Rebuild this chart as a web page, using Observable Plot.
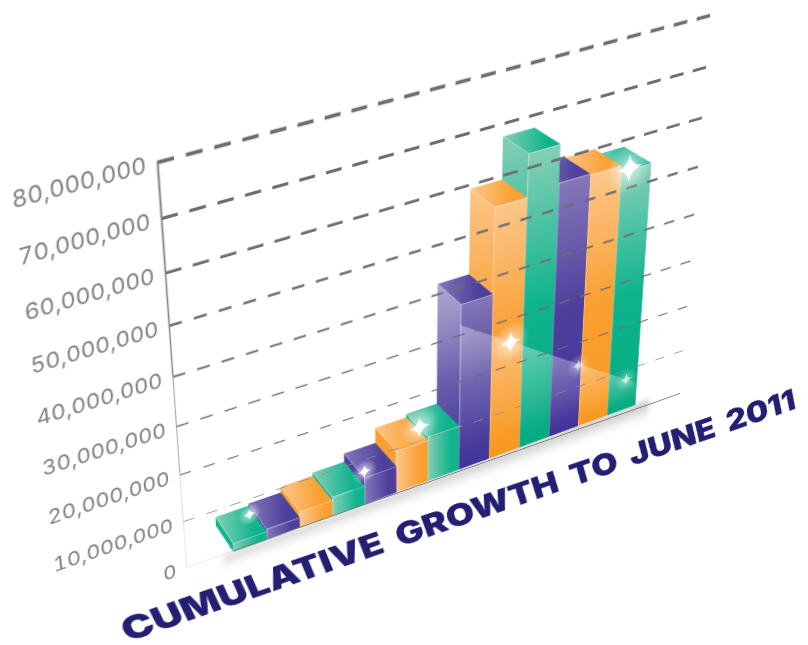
<!DOCTYPE html>
<html>
<head>
<meta charset="utf-8">
<script src="https://cdn.jsdelivr.net/npm/d3@7"></script>
<script src="https://cdn.jsdelivr.net/npm/@observablehq/plot@0.6"></script>
<style>
html,body{margin:0;padding:0;background:#fff;width:808px;height:645px;overflow:hidden}
#chart{position:relative;width:808px;height:645px;overflow:hidden}
</style>
</head>
<body>
<div id="chart"></div>
<script>
// ---- data ----
const titleText = "CUMULATIVE GROWTH TO JUNE 2011";
const barValues = [1.6e6, 2.1e6, 3.4e6, 4.1e6, 6.0e6, 9.4e6, 10.2e6, 36.4e6, 54.1e6, 62.8e6, 55.1e6, 54.9e6, 53.6e6];
const barSeries = ["g","p","o","g","p","o","g","p","o","g","p","o","g"];
const tickValues = [0,1e7,2e7,3e7,4e7,5e7,6e7,7e7,8e7];
const sparkleBar = [0.51, 3.99, 5.72, 8.6, 10.9, 12.6, 12.26];
const sparkleVal = [6.7e6, 7.4e6, 13e6, 25e6, 14.8e6, 7.8e6, 54e6];
const sparkleSize = [6, 7, 11, 11, 7, 7, 14];
const sparkleAlpha = [1, 1, 1, 1, .55, .55, 1];

// ---- colours ----
const light = {g:"#84cfb6", p:"#8477b9", o:"#fcc68a"};
const mid   = {g:"#0fb48d", p:"#4d3f9c", o:"#f9a033"};
const deep  = {g:"#03aa80", p:"#41349a", o:"#f9981f"};

// ---- flat plot frame and its perspective placement ----
const W = 550, H = 400, mL = 210, mR = 190, mT = 20, mB = 110;
const corners = {bl:[186,567], br:[680,393], tr:[710,15], tl:[157,162]};
const xDomain = [-1.392, 14.608];
const vanish = [-12.48, 189e6], depth = 0.037;

function perspective() {
  const {bl, br, tr, tl} = corners;
  const dx1=br[0]-tr[0], dx2=tl[0]-tr[0], sx=bl[0]-br[0]+tr[0]-tl[0];
  const dy1=br[1]-tr[1], dy2=tl[1]-tr[1], sy=bl[1]-br[1]+tr[1]-tl[1];
  const det=dx1*dy2-dx2*dy1;
  const g=(sx*dy2-dx2*sy)/det, h=(dx1*sy-sx*dy1)/det;
  const a=br[0]-bl[0]+g*br[0], b=tl[0]-bl[0]+h*tl[0], c=bl[0];
  const d=br[1]-bl[1]+g*br[1], e=tl[1]-bl[1]+h*tl[1], f=bl[1];
  const lift = (p,q,r)=>[p/W, -q/H, -p*mL/W + q*(H+mT)/H + r];
  const X=lift(a,b,c), Y=lift(d,e,f), Z=lift(g,h,1);
  const n=Z[2];
  return `matrix3d(${[X[0]/n,Y[0]/n,0,Z[0]/n, X[1]/n,Y[1]/n,0,Z[1]/n, 0,0,1,0, X[2]/n,Y[2]/n,0,1].join(",")})`;
}

// ---- solids ----
const back = ([x,y]) => [x+depth*(vanish[0]-x), y+depth*(vanish[1]-y)];
const quad = (A,B,C,D) => [{x1:A[0],y1:A[1],x2:D[0],y2:D[1]},{x1:B[0],y1:B[1],x2:C[0],y2:C[1]}];
const face = (rows, fill, extra={}) => Plot.area(rows,{x1:"x1",y1:"y1",x2:"x2",y2:"y2",fill,...extra});
const edge = (A,B,o=.55,w=.8) => Plot.line([A,B],{x:d=>d[0],y:d=>d[1],stroke:"#fff",strokeOpacity:o,strokeWidth:w});
const foot = i => -4e5 + i*1e5;
const sheenTop = x => 32e6 - (x-7)*26e6/6;

function barMarks(i) {
  const s=barSeries[i], v=barValues[i], x0=i, x1=i+1, tall=v>=3e7;
  const FLt=[x0,v], FRt=[x1,v], FLb=[x0,foot(i)], FRb=[x1,foot(i+1)];
  const BLt=back(FLt), BRt=back(FRt), BLb=back(FLb);
  const kind = tall ? "v" : "h";
  const marks=[
    face(quad(BLt,FLt,FLb,BLb), tall?`url(#v-${s})`:mid[s]),
    face(quad(BLt,BRt,FRt,FLt), `url(#h-${s})`),
    face(quad(FLt,FRt,FRb,FLb), `url(#${kind}-${s})`)
  ];
  if (i===7) marks.push(face(quad(BLt,FLt,FLb,BLb),"url(#sheen)"));
  if (i>=7) {
    const a=Math.min(v,sheenTop(x0)), b=Math.min(v,sheenTop(x1));
    marks.push(face(quad([x0,a],[x1,b],FRb,FLb),"url(#sheen)"));
  }
  marks.push(edge(FLt,FRt,.45,.7), edge(FLt,BLt,.35,.6), edge(FLt,FLb,.45,.7));
  return marks;
}
const barsPainted = d3.range(barValues.length-1,-1,-1).flatMap(barMarks);

// ---- gradients ----
function defs() {
  const stops = a => a.map(([o,c,al=1])=>`<stop offset="${o}" stop-color="${c}" stop-opacity="${al}"/>`).join("");
  const g = d3.create("svg:g");
  let html = "";
  for (const s of ["g","p","o"]) {
    html += `<linearGradient id="v-${s}" x1="0" y1="0" x2="0" y2="1">${stops([[0,light[s]],[.5,mid[s]],[1,deep[s]]])}</linearGradient>`;
    html += `<linearGradient id="h-${s}" x1="0" y1="0" x2="1" y2="0">${stops([[0,light[s]],[.75,mid[s]],[1,mid[s]]])}</linearGradient>`;
  }
  html += `<linearGradient id="sheen" x1="0" y1="0" x2="0" y2="1">${stops([[0,"#fff",.36],[.85,"#fff",.02],[1,"#fff",0]])}</linearGradient>`;
  html += `<linearGradient id="shadow" x1="0" y1="0" x2="0" y2="1">${stops([[0,"#555",.4],[1,"#888",0]])}</linearGradient>`;
  html += `<radialGradient id="glow">${stops([[0,"#fff",.85],[.35,"#fff",.45],[1,"#fff",0]])}</radialGradient>`;
  g.append("defs").html(html);
  return g.node();
}

const fourPoint = {draw(ctx,size){
  const R=Math.sqrt(size/Math.PI), n=R*.13;
  ctx.moveTo(0,-R);
  ctx.quadraticCurveTo(n,-n,R,0);
  ctx.quadraticCurveTo(n,n,0,R);
  ctx.quadraticCurveTo(-n,n,-R,0);
  ctx.quadraticCurveTo(-n,-n,0,-R);
  ctx.closePath();
}};

const gridWidth = t => .5 + t/8e7*3;
const gridDash = t => t>=6e7 ? "15 10.48" : t>=3e7 ? "12 11.39" : "11 12.43";
const gridColor = t => t>=2e7 ? "#6e6e6e" : "#8c8c8c";
const sparkles = sparkleBar.map((x,i)=>({x,y:sparkleVal[i],r:sparkleSize[i],a:sparkleAlpha[i]}));

const chart = Plot.plot({
  width: mL+W+mR, height: mT+H+mB,
  marginLeft: mL, marginRight: mR, marginTop: mT, marginBottom: mB,
  x: {domain: xDomain, axis: null},
  y: {domain: [0,8e7], axis: null},
  r: {type:"identity"},
  opacity: {type:"identity"},
  style: {position:"absolute",left:"0",top:"0",maxWidth:"none",overflow:"visible",
          background:"transparent",transformOrigin:"0 0",transform:perspective(),fontFamily:"Inter, Lato, sans-serif"},
  marks: [
    defs,
    face(quad([-.3,foot(0)],[13.5,foot(13)],[13.5,-3.6e6],[-.3,-3.6e6]),"url(#shadow)",{imageFilter:"blur(3px)"}),
    ...barsPainted,
    // base line
    Plot.ruleY([0],{x1:xDomain[0],x2:0,stroke:"#e2e2e2",strokeWidth:.7}),
    Plot.ruleY([0],{x1:0,x2:xDomain[1],stroke:"#777",strokeWidth:1.1}),
    // dashed gridlines, heavier toward the top
    ...tickValues.slice(1).map(t=>Plot.ruleY([t],{stroke:gridColor(t),strokeWidth:gridWidth(t),strokeDasharray:gridDash(t)})),
    // value axis line
    ...tickValues.slice(0,-1).map((t,i)=>Plot.ruleX([xDomain[0]],{y1:t,y2:tickValues[i+1],
      stroke:i<2?"#d8d8d8":i<4?"#aaa":"#808080",strokeWidth:.6+i*.17})),
    Plot.axisY({ticks:tickValues,tickFormat:d3.format(","),tickSize:0,tickPadding:10,label:null,
      fontSize:20,fontWeight:400,fill:"#808285"}),
    // sparkle highlights
    Plot.dot(sparkles,{x:"x",y:"y",r:d=>d.r*1.9,fill:"url(#glow)",fillOpacity:"a",stroke:"none"}),
    Plot.dot(sparkles,{x:"x",y:"y",r:"r",symbol:fourPoint,fill:"#fff",fillOpacity:"a",stroke:"none"}),
    // title lying under the floor of the chart
    Plot.text([titleText],{x:()=>-3.21,y:()=>-11.8e6,text:d=>d,textAnchor:"start",lineAnchor:"bottom",rotate:.9,
      fontSize:38,fontWeight:900,fill:"#231f73"})
  ]
});
d3.select(chart).selectAll("text").filter(function(){return this.textContent===titleText;})
  .style("word-spacing","7px")
  .attr("textLength",770).attr("lengthAdjust","spacingAndGlyphs")
  .attr("transform",function(){return this.getAttribute("transform")+" skewX(18)";});
document.getElementById("chart").append(chart);
</script>
</body>
</html>
